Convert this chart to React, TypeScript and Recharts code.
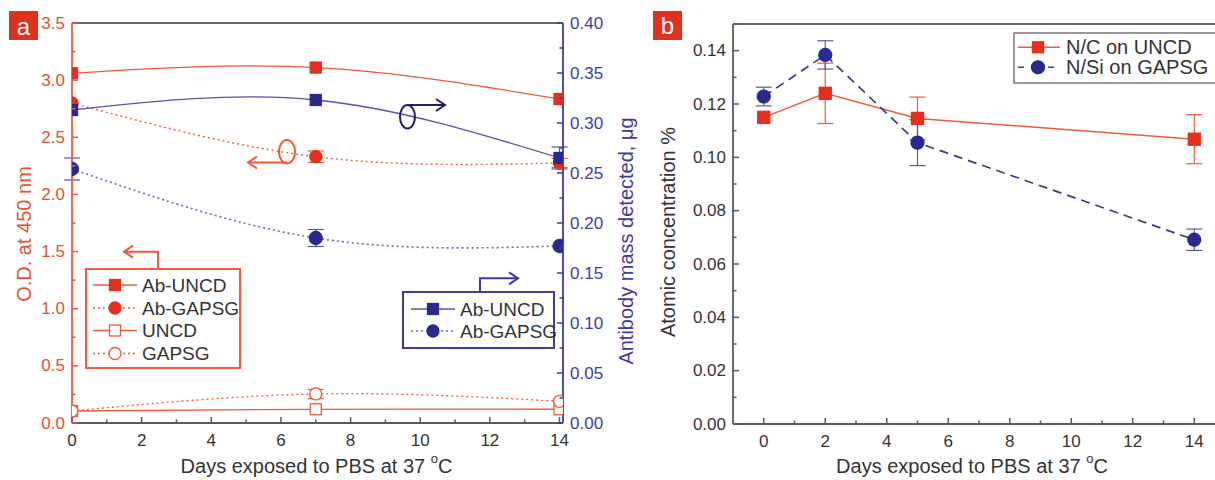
import React from "react";
import { LineChart, Line, XAxis, YAxis, ErrorBar, ReferenceLine } from "recharts";

const FONT = "'Liberation Sans', Arial, sans-serif";
const RED = "#e62d1e";
const RED_LINE = "#ee5a3a";
const RED_TEXT = "#e8502e";
const BLUE = "#2a2a8e";
const BLUE_LINE = "#5656a8";
const BLUE_DOT = "#6a6ab0";
const BLUE_TEXT = "#3d3d9c";
const GREY = "#5a5a5a";
const TEXT = "#333";

// panel a – O.D. (left axis) and antibody mass (right axis)
const daysA = [0, 7, 14];
const abUncdOD = [3.06, 3.11, 2.835];
const abGapsgOD = [2.8, 2.33, 2.275];
const abGapsgODErr = [0, 0.05, 0.04];
const uncdOD = [0.105, 0.12, 0.12];
const gapsgOD = [0.105, 0.254, 0.19];
const gapsgODErr = [0, 0.04, 0];
const abUncdMass = [0.313, 0.323, 0.265];
const abUncdMassErr = [0, 0, 0.011];
const abGapsgMass = [0.254, 0.185, 0.177];
const abGapsgMassErr = [0.011, 0.0085, 0];

// panel b – atomic concentration
const daysB = [0, 2, 5, 14];
const ncUncd = [0.115, 0.124, 0.1146, 0.1068];
const ncUncdErr = [0, 0.0113, 0.008, 0.0092];
const nsiGapsg = [0.1228, 0.1384, 0.1055, 0.0691];
const nsiGapsgErr = [0.0035, 0.0053, 0.0086, 0.004];

// ticks (majors get labels)
const dayTicks = [0, 1, 2, 3, 4, 5, 6, 7, 8, 9, 10, 11, 12, 13, 14];
const odTicks = [0, 0.25, 0.5, 0.75, 1, 1.25, 1.5, 1.75, 2, 2.25, 2.5, 2.75, 3, 3.25, 3.5];
const massTicks = [0, 0.025, 0.05, 0.075, 0.1, 0.125, 0.15, 0.175, 0.2, 0.225, 0.25, 0.275, 0.3, 0.325, 0.35, 0.375, 0.4];
const atomTicks = [0, 0.01, 0.02, 0.03, 0.04, 0.05, 0.06, 0.07, 0.08, 0.09, 0.1, 0.11, 0.12, 0.13, 0.14, 0.15];

const dataA = daysA.map((day, i) => ({
  day,
  abUncdOD: abUncdOD[i],
  abGapsgOD: abGapsgOD[i],
  abGapsgODErr: abGapsgODErr[i],
  uncdOD: uncdOD[i],
  gapsgOD: gapsgOD[i],
  gapsgODErr: gapsgODErr[i],
  abUncdMass: abUncdMass[i],
  abUncdMassErr: abUncdMassErr[i],
  abGapsgMass: abGapsgMass[i],
  abGapsgMassErr: abGapsgMassErr[i],
}));

const dataB = daysB.map((day, i) => ({
  day,
  ncUncd: ncUncd[i],
  ncUncdErr: ncUncdErr[i],
  nsiGapsg: nsiGapsg[i],
  nsiGapsgErr: nsiGapsgErr[i],
}));

function Marker({ cx, cy, mark, fill, stroke, size }: any) {
  if (cx == null || cy == null) return null;
  return mark === "square" ? (
    <rect x={cx - size / 2} y={cy - size / 2} width={size} height={size} fill={fill} stroke={stroke} strokeWidth={1.3} />
  ) : (
    <circle cx={cx} cy={cy} r={size / 2} fill={fill} stroke={stroke} strokeWidth={1.3} />
  );
}

const dotOf = (mark: string, fill: string, stroke: string, size: number) => (p: any) =>
  <Marker key={p.index} cx={p.cx} cy={p.cy} mark={mark} fill={fill} stroke={stroke} size={size} />;

function makeTick(side: "left" | "right" | "bottom", lineColor: string, textColor: string, isMajor: (v: number) => boolean, fmt: (v: number) => string) {
  return (props: any) => {
    const { x, y, payload } = props;
    const v = payload.value;
    const major = isMajor(v);
    const len = major ? 6 : 3.5;
    let line, label;
    if (side === "left") {
      line = <line x1={x} x2={x + len} y1={y} y2={y} stroke={lineColor} strokeWidth={1.5} />;
      label = major && <text x={x - 7} y={y} textAnchor="end" dominantBaseline="central">{fmt(v)}</text>;
    } else if (side === "right") {
      line = <line x1={x} x2={x - len} y1={y} y2={y} stroke={lineColor} strokeWidth={1.5} />;
      label = major && <text x={x + 7} y={y} textAnchor="start" dominantBaseline="central">{fmt(v)}</text>;
    } else {
      line = <line x1={x} x2={x} y1={y} y2={y - len} stroke={lineColor} strokeWidth={1.5} />;
      label = major && <text x={x} y={y + 17} textAnchor="middle" dominantBaseline="central">{fmt(v)}</text>;
    }
    return (
      <g fill={textColor} fontSize={17} fontFamily={FONT}>
        {line}
        {label}
      </g>
    );
  };
}

const even = (v: number) => Math.round(v) % 2 === 0;
const step = (s: number) => (v: number) => Math.round(v / s) % 2 === 0;

const daysLabel = (dx: number) => (p: any) => {
  const vb = p.viewBox;
  return (
    <text x={vb.x + vb.width / 2 + dx} y={466} textAnchor="middle" dominantBaseline="central" fontSize={20} fontFamily={FONT} fill={TEXT}>
      Days exposed to PBS at 37 <tspan dy={-8} fontSize={13}>o</tspan>
      <tspan dy={8}>C</tspan>
    </text>
  );
};

const vLabel = (text: string, x: number, y: number, color: string) => () => (
  <text x={x} y={y} transform={`rotate(-90, ${x}, ${y})`} textAnchor="middle" dominantBaseline="central" fontSize={20} fontFamily={FONT} fill={color}>
    {text}
  </text>
);

function LegendRow({ x, y, mark, fill, stroke, line, dash, label, size }: any) {
  return (
    <g>
      <line x1={x} x2={x + 44} y1={y} y2={y} stroke={line} strokeWidth={1.4} strokeDasharray={dash} />
      <Marker cx={x + 22} cy={y} mark={mark} fill={fill} stroke={stroke} size={size} />
      <text x={x + 49} y={y} dominantBaseline="central" fontSize={19} fontFamily={FONT} fill={TEXT}>{label}</text>
    </g>
  );
}

function Chevron({ x, y, dir, color }: any) {
  const d = dir === "left" ? 9 : -9;
  return <polyline points={`${x + d},${y - 6} ${x},${y} ${x + d},${y + 6}`} fill="none" stroke={color} strokeWidth={2} />;
}

function Overlay() {
  return (
    <svg width={1215} height={480} style={{ position: "absolute", left: 0, top: 0, pointerEvents: "none" }}>
      {/* panel letters */}
      <rect x={9} y={11} width={29} height={29} fill="#e0301e" />
      <text x={23.5} y={26} textAnchor="middle" dominantBaseline="central" fontSize={24} fontFamily={FONT} fill="#fff">a</text>
      <rect x={653} y={11} width={29} height={29} fill="#e0301e" />
      <text x={667.5} y={25} textAnchor="middle" dominantBaseline="central" fontSize={24} fontFamily={FONT} fill="#fff">b</text>

      {/* red legend (left axis) */}
      <rect x={86} y={269} width={154} height={99} fill="#fff" stroke={RED_LINE} strokeWidth={2} />
      <polyline points="158,269 158,251.7 124,251.7" fill="none" stroke={RED_LINE} strokeWidth={2} />
      <Chevron x={124} y={251.7} dir="left" color={RED_LINE} />
      <LegendRow x={93} y={285} mark="square" fill={RED} stroke={RED} line={RED_LINE} label="Ab-UNCD" size={11} />
      <LegendRow x={93} y={308} mark="circle" fill={RED} stroke={RED} line={RED_LINE} dash="2 3" label="Ab-GAPSG" size={12} />
      <LegendRow x={93} y={330.5} mark="square" fill="#fff" stroke={RED_LINE} line={RED_LINE} label="UNCD" size={11} />
      <LegendRow x={93} y={353.5} mark="circle" fill="#fff" stroke={RED_LINE} line={RED_LINE} dash="2 3" label="GAPSG" size={12} />

      {/* blue legend (right axis) */}
      <rect x={403} y={292} width={151} height={56} fill="#fff" stroke={BLUE_TEXT} strokeWidth={2} />
      <polyline points="480,292 480,278.3 518,278.3" fill="none" stroke={BLUE_TEXT} strokeWidth={2} />
      <Chevron x={518} y={278.3} dir="right" color={BLUE_TEXT} />
      <LegendRow x={411} y={309} mark="square" fill={BLUE} stroke={BLUE} line={BLUE_LINE} label="Ab-UNCD" size={11} />
      <LegendRow x={411} y={331} mark="circle" fill={BLUE} stroke={BLUE} line={BLUE_DOT} dash="2 3" label="Ab-GAPSG" size={12} />

      {/* axis pointers */}
      <ellipse cx={287} cy={151.7} rx={8} ry={11.7} fill="none" stroke={RED_LINE} strokeWidth={2} />
      <line x1={287} x2={248} y1={162.5} y2={162.5} stroke={RED_LINE} strokeWidth={2} />
      <Chevron x={248} y={162.5} dir="left" color={RED_LINE} />
      <ellipse cx={407.5} cy={116.7} rx={7.5} ry={11.7} fill="none" stroke="#1e1e70" strokeWidth={2} />
      <line x1={407.5} x2={445} y1={105} y2={105} stroke="#1e1e70" strokeWidth={2} />
      <Chevron x={445} y={105} dir="right" color="#1e1e70" />

      {/* panel b legend */}
      <rect x={1014} y={33} width={210} height={50} fill="#fff" stroke="#777" strokeWidth={1.5} />
      <g>
        <line x1={1018} x2={1060} y1={47.3} y2={47.3} stroke={RED_LINE} strokeWidth={1.6} />
        <Marker cx={1038} cy={47.3} mark="square" fill={RED} stroke={RED} size={11} />
        <text x={1066} y={47.3} dominantBaseline="central" fontSize={20} fontFamily={FONT} fill={TEXT}>N/C on UNCD</text>
      </g>
      <g>
        <line x1={1018} x2={1060} y1={67.3} y2={67.3} stroke="#3c3c78" strokeWidth={1.6} strokeDasharray="6 9" />
        <Marker cx={1038} cy={67.3} mark="circle" fill={BLUE} stroke={BLUE} size={13} />
        <text x={1066} y={67.3} dominantBaseline="central" fontSize={20} fontFamily={FONT} fill={TEXT}>N/Si on GAPSG</text>
      </g>
    </svg>
  );
}

export default function App() {
  return (
    <div style={{ position: "relative", width: 1215, height: 480, overflow: "hidden", background: "#fff", fontFamily: FONT }}>
      <style>{"body{margin:0}"}</style>
      <div style={{ position: "absolute", left: 0, top: 0 }}>
        <LineChart width={650} height={480} data={dataA} margin={{ top: 23, right: 0, left: 0, bottom: 0 }}>
          <XAxis
            dataKey="day"
            type="number"
            domain={[0, 14.1]}
            allowDataOverflow
            ticks={dayTicks}
            interval={0}
            height={57}
            tickSize={0}
            tickMargin={0}
            tickLine={false}
            axisLine={{ stroke: GREY, strokeWidth: 1.8 }}
            tick={makeTick("bottom", GREY, TEXT, even, (v) => String(v))}
            label={{ content: daysLabel(-1) }}
          />
          <YAxis
            yAxisId="left"
            domain={[0, 3.5]}
            allowDataOverflow
            ticks={odTicks}
            interval={0}
            width={72}
            tickSize={0}
            tickMargin={0}
            tickLine={false}
            axisLine={{ stroke: RED_LINE, strokeWidth: 1.8 }}
            tick={makeTick("left", RED_LINE, RED_TEXT, step(0.25), (v) => v.toFixed(1))}
            label={{ content: vLabel("O.D. at 450 nm", 24, 234, RED_TEXT) }}
          />
          <YAxis
            yAxisId="right"
            orientation="right"
            domain={[0, 0.4]}
            allowDataOverflow
            ticks={massTicks}
            interval={0}
            width={87}
            tickSize={0}
            tickMargin={0}
            tickLine={false}
            axisLine={{ stroke: BLUE_TEXT, strokeWidth: 1.8 }}
            tick={makeTick("right", BLUE_TEXT, BLUE_TEXT, step(0.025), (v) => v.toFixed(2))}
            label={{ content: vLabel("Antibody mass detected, \u03bcg", 626, 241, BLUE_TEXT) }}
          />
          <ReferenceLine yAxisId="left" y={3.5} stroke="#666" strokeWidth={1.8} />

          <Line yAxisId="left" type="natural" dataKey="uncdOD" stroke={RED_LINE} strokeWidth={1.3} isAnimationActive={false}
            dot={dotOf("square", "#fff", RED_LINE, 11)} />
          <Line yAxisId="left" type="natural" dataKey="gapsgOD" stroke={RED_LINE} strokeWidth={1.3} strokeDasharray="2 3" isAnimationActive={false}
            dot={dotOf("circle", "#fff", RED_LINE, 12)}>
            <ErrorBar dataKey="gapsgODErr" width={8} stroke={RED_LINE} strokeWidth={1.2} />
          </Line>
          <Line yAxisId="left" type="natural" dataKey="abUncdOD" stroke={RED_LINE} strokeWidth={1.3} isAnimationActive={false}
            dot={dotOf("square", RED, RED, 11)} />
          <Line yAxisId="left" type="natural" dataKey="abGapsgOD" stroke={RED_LINE} strokeWidth={1.4} strokeDasharray="2 3" isAnimationActive={false}
            dot={dotOf("circle", RED, RED, 12)}>
            <ErrorBar dataKey="abGapsgODErr" width={8} stroke={RED_LINE} strokeWidth={1.2} />
          </Line>
          <Line yAxisId="right" type="natural" dataKey="abUncdMass" stroke={BLUE_LINE} strokeWidth={1.3} isAnimationActive={false}
            dot={dotOf("square", BLUE, BLUE, 11)}>
            <ErrorBar dataKey="abUncdMassErr" width={8} stroke={BLUE_LINE} strokeWidth={1.2} />
          </Line>
          <Line yAxisId="right" type="natural" dataKey="abGapsgMass" stroke={BLUE_DOT} strokeWidth={1.6} strokeDasharray="2 3" isAnimationActive={false}
            dot={dotOf("circle", BLUE, BLUE, 13)}>
            <ErrorBar dataKey="abGapsgMassErr" width={8} stroke={BLUE_LINE} strokeWidth={1.2} />
          </Line>
        </LineChart>
      </div>

      <div style={{ position: "absolute", left: 600, top: 0 }}>
        <LineChart width={625} height={480} data={dataB} margin={{ top: 24, right: 0, left: 0, bottom: 0 }}>
          <XAxis
            dataKey="day"
            type="number"
            domain={[-1, 15]}
            allowDataOverflow
            ticks={dayTicks}
            interval={0}
            height={56}
            tickSize={0}
            tickMargin={0}
            tickLine={false}
            axisLine={{ stroke: GREY, strokeWidth: 1.8 }}
            tick={makeTick("bottom", GREY, TEXT, even, (v) => String(v))}
            label={{ content: daysLabel(-7) }}
          />
          <YAxis
            domain={[0, 0.15]}
            allowDataOverflow
            ticks={atomTicks}
            interval={0}
            width={133}
            tickSize={0}
            tickMargin={0}
            tickLine={false}
            axisLine={{ stroke: GREY, strokeWidth: 1.8 }}
            tick={makeTick("left", GREY, TEXT, step(0.01), (v) => v.toFixed(2))}
            label={{ content: vLabel("Atomic concentration %", 68, 232, TEXT) }}
          />
          <ReferenceLine y={0.15} stroke="#666" strokeWidth={1.8} />
          <Line type="linear" dataKey="ncUncd" stroke={RED_LINE} strokeWidth={1.5} isAnimationActive={false}
            dot={dotOf("square", RED, RED, 12)}>
            <ErrorBar dataKey="ncUncdErr" width={8} stroke={RED_LINE} strokeWidth={1.2} />
          </Line>
          <Line type="linear" dataKey="nsiGapsg" stroke="#3c3c78" strokeWidth={1.7} strokeDasharray="9 6" isAnimationActive={false}
            dot={dotOf("circle", BLUE, BLUE, 13)}>
            <ErrorBar dataKey="nsiGapsgErr" width={8} stroke="#5a5aa0" strokeWidth={1.2} />
          </Line>
        </LineChart>
      </div>

      <Overlay />
    </div>
  );
}
